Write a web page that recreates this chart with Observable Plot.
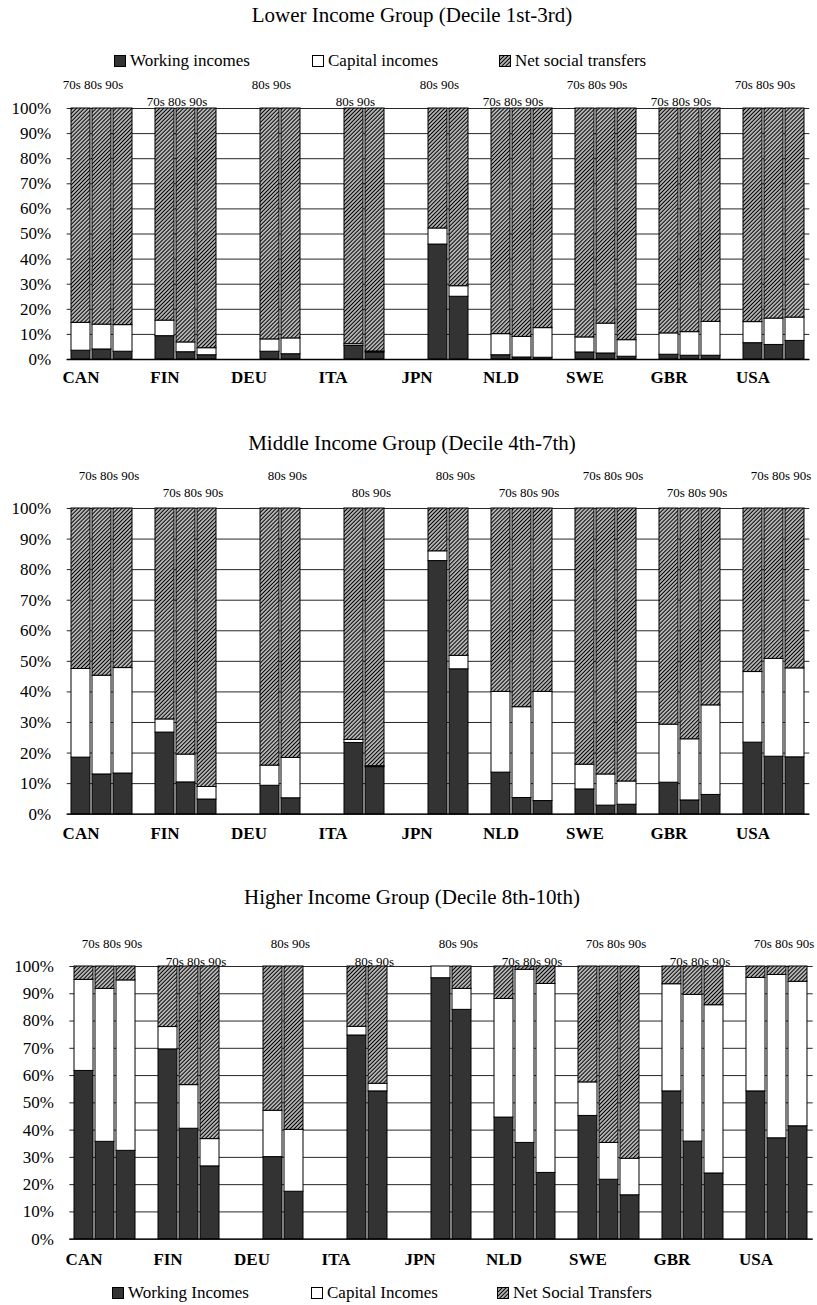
<!DOCTYPE html>
<html><head><meta charset="utf-8">
<script src="https://cdn.jsdelivr.net/npm/d3@7"></script>
<script src="https://cdn.jsdelivr.net/npm/@observablehq/plot@0.6"></script>
<style>
body{margin:0;background:#fff;}
#root{position:relative;width:817px;height:1305px;font-family:"Liberation Serif","Times New Roman",serif;color:#000;background:#fff;overflow:hidden;}
.title{position:absolute;left:412px;transform:translateX(-50%);white-space:nowrap;font-size:21px;line-height:24px;font-family:"Liberation Serif",serif;}
.leg{position:absolute;display:flex;align-items:center;font-size:17px;line-height:20px;white-space:nowrap;font-family:"Liberation Serif",serif;}
.leg svg{margin-right:3px;display:block;}
.panel{position:absolute;left:0;}
.panel text{font-family:"Liberation Serif",serif;}
</style></head><body>
<svg width="0" height="0" style="position:absolute"><defs>
<pattern id="hatch" width="2.8" height="2.8" patternUnits="userSpaceOnUse" patternTransform="rotate(45)">
<rect width="2.8" height="2.8" fill="#fff"/><line x1="1.4" y1="0" x2="1.4" y2="2.8" stroke="#000" stroke-width="1.5"/>
</pattern></defs></svg>
<div id="root"></div>
<script>
// ---------- data ----------
const countries = ["CAN","FIN","DEU","ITA","JPN","NLD","SWE","GBR","USA"];
const decades = ["70s","80s","90s"];
const countryDecades = [
  ["70s","80s","90s"], ["70s","80s","90s"], ["80s","90s"], ["80s","90s"], ["80s","90s"],
  ["70s","80s","90s"], ["70s","80s","90s"], ["70s","80s","90s"], ["70s","80s","90s"]
];
const seriesKeys = ["Working","Capital","Transfers"];
const yTicks = [0,10,20,30,40,50,60,70,80,90,100];

const titles = ["Lower Income Group (Decile 1st-3rd)","Middle Income Group (Decile 4th-7th)","Higher Income Group (Decile 8th-10th)"];
const legendTop = ["Working incomes","Capital incomes","Net social transfers"];
const legendBottom = ["Working Incomes","Capital Incomes","Net Social Transfers"];

// order: CAN70,80,90 FIN70,80,90 DEU80,90 ITA80,90 JPN80,90 NLD70,80,90 SWE70,80,90 GBR70,80,90 USA70,80,90
const lowerWorking   = [3.5,4.0,3.1, 9.3,2.9,1.7, 3.1,2.1, 5.4,2.8, 45.8,25.0, 1.7,0.8,0.7, 2.8,2.4,1.1, 1.9,1.5,1.5, 6.5,5.8,7.4];
const lowerCapital   = [11.1,9.9,10.6, 6.2,3.9,2.8, 4.9,6.3, 0.7,0.4, 6.4,4.2, 8.4,8.2,11.8, 6.0,11.9,6.6, 8.5,9.4,13.5, 8.4,10.5,9.3];
const lowerTransfers = [85.4,86.1,86.3, 84.5,93.2,95.5, 92.0,91.6, 93.9,96.8, 47.8,70.8, 89.9,91.0,87.5, 91.2,85.7,92.3, 89.6,89.1,85.0, 85.1,83.7,83.3];

const middleWorking   = [18.5,13.0,13.3, 26.7,10.4,4.8, 9.3,5.2, 23.3,15.4, 82.8,47.4, 13.6,5.3,4.3, 8.1,2.8,3.1, 10.3,4.5,6.3, 23.4,18.8,18.6];
const middleCapital   = [29.0,32.3,34.5, 4.3,9.1,4.1, 6.6,13.2, 1.0,0.3, 3.2,4.4, 26.4,29.7,35.7, 8.1,10.2,7.6, 19.0,20.0,29.3, 23.1,32.0,29.1];
const middleTransfers = [52.5,54.7,52.2, 69.0,80.5,91.1, 84.1,81.6, 75.7,84.3, 14.0,48.2, 60.0,65.0,60.0, 83.8,87.0,89.3, 70.7,75.5,64.4, 53.5,49.2,52.3];

const higherWorking   = [61.7,35.7,32.4, 69.6,40.5,26.7, 30.1,17.4, 74.7,54.2, 95.7,84.1, 44.6,35.3,24.3, 45.2,21.8,16.1, 54.2,35.8,24.1, 54.2,37.0,41.4];
const higherCapital   = [33.4,56.1,62.5, 8.2,16.0,10.0, 17.0,22.7, 3.2,2.8, 4.3,7.7, 43.5,63.5,69.3, 12.3,13.5,13.4, 39.3,53.8,61.7, 41.6,59.9,53.0];
const higherTransfers = [4.9,8.2,5.1, 22.2,43.5,63.3, 52.9,59.9, 22.1,43.0, 0.0,8.2, 11.9,1.2,6.4, 42.5,64.7,70.5, 6.5,10.4,14.2, 4.2,3.1,5.6];

// ---------- build ----------
const serif = "Liberation Serif";
const fills = ["#333333","#ffffff","url(#hatch)"];
const bars = countries.flatMap((c,i) => countryDecades[i].map(d => ({country:c, decade:d})));
const slots = countries.flatMap((c,i) => [...decades.map(d => c+"|"+d), ...(i < countries.length-1 ? [c+"|gap"] : [])]);
const padInner = 0.09;

const root = document.getElementById("root");

function addTitle(text, top){
  const d = document.createElement("div");
  d.className = "title"; d.style.top = top+"px"; d.textContent = text;
  root.appendChild(d);
}
function addLegend(labels, top, lefts){
  labels.forEach((lab,i) => {
    const d = document.createElement("div");
    d.className = "leg"; d.style.top = top+"px"; d.style.left = lefts[i]+"px";
    d.innerHTML = `<svg width="13" height="13"><rect x="0.5" y="0.5" width="11" height="11" fill="${fills[i]}" stroke="#000" stroke-width="1"/></svg>`;
    const s = document.createElement("span"); s.textContent = lab; d.appendChild(s);
    root.appendChild(d);
  });
}

function panel(cfg){
  const {working, capital, transfers, top, marginTop, innerH, ml, mr, row1, row2, nudge, countryDy} = cfg;
  const rows = [];
  bars.forEach((b,i) => {
    const slot = b.country+"|"+b.decade;
    rows.push({slot, series: seriesKeys[0], value: working[i]});
    rows.push({slot, series: seriesKeys[1], value: capital[i]});
    rows.push({slot, series: seriesKeys[2], value: transfers[i]});
  });
  const W = 817 - ml - mr;
  const step = W / (slots.length - padInner);
  const labels = countries.map((c,i) => {
    const ds = countryDecades[i];
    return {text: ds.join(" "), slot: c + (ds.length === 3 ? "|80s" : "|90s"), row: i % 2, half: ds.length !== 3};
  });
  const labelMark = (row, half) => Plot.text(labels.filter(l => l.row === row && l.half === half), {
    x: "slot", text: "text", frameAnchor: "top", dy: row === 0 ? row1 : row2,
    dx: nudge + (half ? -step/2 : 0), fontSize: 13, fontFamily: serif, fill: "#000"
  });
  const marginBottom = 40;
  const chart = Plot.plot({
    width: 817, height: marginTop + innerH + marginBottom,
    marginLeft: ml, marginRight: mr, marginTop, marginBottom,
    style: {fontFamily: serif, fontSize: "17px", color: "#000", background: "transparent", overflow: "visible"},
    x: {domain: slots, paddingInner: padInner, paddingOuter: 0, axis: null},
    y: {domain: [0, 100], axis: null},
    color: {domain: seriesKeys, range: fills},
    marks: [
      Plot.ruleY(yTicks, {stroke: "#000", strokeOpacity: 0.85, strokeWidth: 1}),
      Plot.barY(rows, {x: "slot", y: "value", fill: "series", stroke: "#000", strokeWidth: 1}),
      Plot.ruleY([0], {stroke: "#000", strokeWidth: 1.3}),
      Plot.axisY({ticks: yTicks, tickFormat: d => d + "%", tickSize: 0, tickPadding: 16, fontSize: 17, fontFamily: serif, fill: "#000", label: null}),
      Plot.text(countries, {x: c => c + "|70s", text: c => c, frameAnchor: "bottom", dy: countryDy, fontWeight: "bold", fontSize: 17, fontFamily: serif, fill: "#000"}),
      labelMark(0, false), labelMark(0, true), labelMark(1, false), labelMark(1, true)
    ]
  });
  chart.classList.add("panel");
  chart.style.top = top + "px";
  root.appendChild(chart);
}

addTitle(titles[0], 3);
addLegend(legendTop, 51, [114, 312, 499]);
panel({working: lowerWorking, capital: lowerCapital, transfers: lowerTransfers,
  top: 68.3, marginTop: 40, innerH: 251, ml: 66.7, mr: 7.7, row1: -28.3, row2: -11.6, nudge: -9, countryDy: 23.7});

addTitle(titles[1], 431);
panel({working: middleWorking, capital: middleCapital, transfers: middleTransfers,
  top: 458.3, marginTop: 50, innerH: 305.7, ml: 66.7, mr: 7.7, row1: -37.6, row2: -20.6, nudge: 7, countryDy: 25});

addTitle(titles[2], 885);
panel({working: higherWorking, capital: higherCapital, transfers: higherTransfers,
  top: 926, marginTop: 40, innerH: 272.7, ml: 69.3, mr: 4.3, row1: -27.7, row2: -10, nudge: 7, countryDy: 26.3});
addLegend(legendBottom, 1283, [112, 311, 497]);
</script>
</body></html>
